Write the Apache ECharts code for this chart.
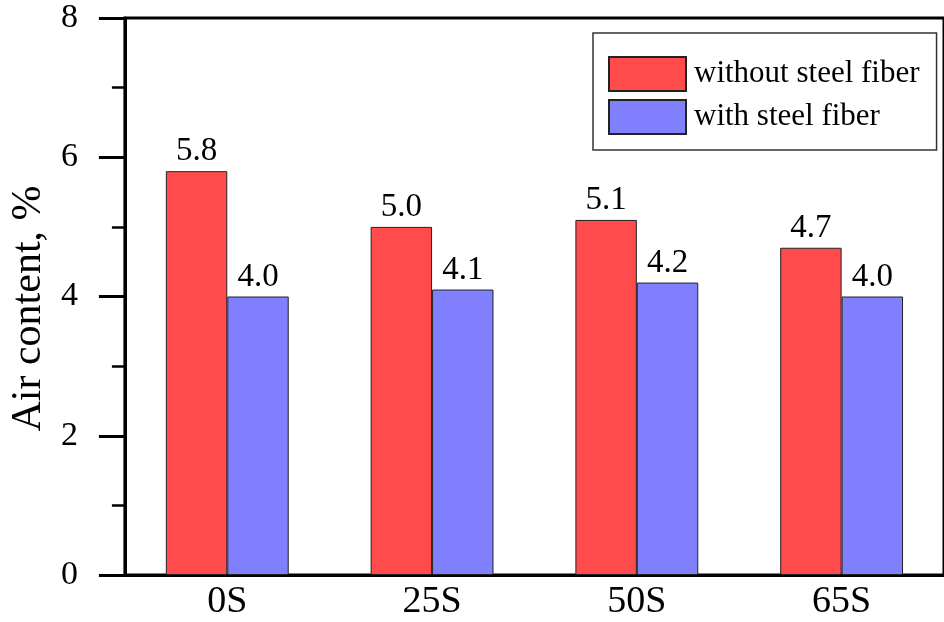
<!DOCTYPE html>
<html>
<head>
<meta charset="utf-8">
<script src="https://cdn.jsdelivr.net/npm/echarts@6/dist/echarts.min.js"></script>
<style>
html,body{margin:0;padding:0;background:#fff;}
#chart{width:944px;height:622px;}
</style>
</head>
<body>
<div id="chart"></div>
<script>
var categories = ["0S", "25S", "50S", "65S"];
var withoutFiber = [5.8, 5.0, 5.1, 4.7];
var withFiber = [4.0, 4.1, 4.2, 4.0];
var seriesNames = ["without steel fiber", "with steel fiber"];
var yAxisName = "Air content, %";

var FONT = 'Liberation Serif';
var chart = echarts.init(document.getElementById('chart'), null, {renderer: 'canvas'});
var labelCfg = {
  show: true, position: 'top', distance: 3,
  fontFamily: FONT, fontSize: 33, color: '#000',
  formatter: function (p) { return p.value.toFixed(1); }
};
chart.setOption({
  animation: false,
  backgroundColor: '#fff',
  grid: {left: 120, top: 18, width: 833, height: 557, show: true,
         borderColor: '#000', borderWidth: 3, backgroundColor: 'transparent'},
  legend: {
    left: 593, top: 33, orient: 'vertical', icon: 'rect',
    itemWidth: 77, itemHeight: 34, itemGap: 7,
    padding: [23, 17, 15, 15],
    borderColor: '#333', borderWidth: 1.5,
    textStyle: {fontFamily: FONT, fontSize: 31, color: '#000', padding: [0, 0, 0, 3]},
    data: seriesNames
  },
  xAxis: {
    type: 'category', data: categories,
    axisLine: {lineStyle: {color: '#000', width: 3}},
    axisTick: {show: false},
    axisLabel: {fontFamily: FONT, fontSize: 38, color: '#000', margin: 8}
  },
  yAxis: {
    type: 'value', min: 0, max: 8, interval: 2,
    name: yAxisName, nameLocation: 'middle', nameGap: 70,
    nameTextStyle: {fontFamily: FONT, fontSize: 42, color: '#000', padding: [0, 24, 0, 0]},
    axisLine: {show: true, lineStyle: {color: '#000', width: 3}},
    axisTick: {show: true, inside: false, length: 26, lineStyle: {color: '#000', width: 3}},
    minorTick: {show: true, splitNumber: 2, length: 13, lineStyle: {color: '#000', width: 2.5}},
    splitLine: {show: false},
    axisLabel: {fontFamily: FONT, fontSize: 34, color: '#000', margin: 47}
  },
  series: [
    {name: seriesNames[0], type: 'bar', data: withoutFiber, barWidth: '30%', barGap: '0%',
     itemStyle: {color: '#FF4B4B', borderColor: '#222', borderWidth: 1}, label: labelCfg},
    {name: seriesNames[1], type: 'bar', data: withFiber, barWidth: '30%', barGap: '0%',
     itemStyle: {color: '#8080FF', borderColor: '#222', borderWidth: 1}, label: labelCfg}
  ]
});
</script>
</body>
</html>
